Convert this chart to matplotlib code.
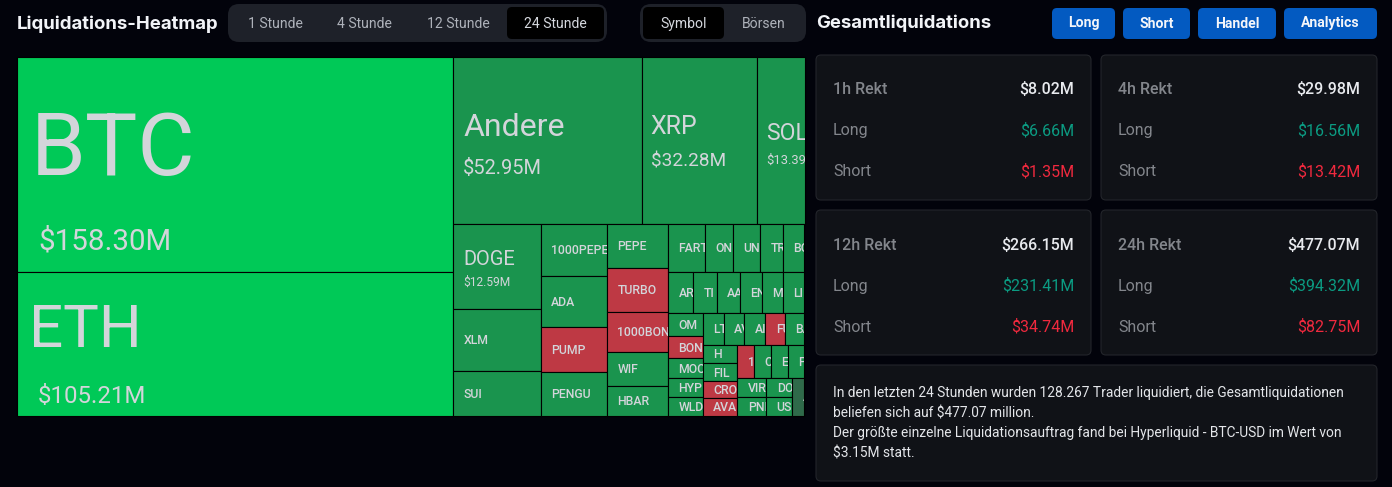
import matplotlib
matplotlib.use("Agg")
import matplotlib.pyplot as plt
from matplotlib.patches import FancyBboxPatch, Rectangle

symbols = ["BTC", "ETH", "Andere", "XRP", "SOL", "DOGE", "XLM", "SUI",
           "1000PEPE", "ADA", "PUMP", "PENGU",
           "PEPE", "TURBO", "1000BON", "WIF", "HBAR",
           "FART", "ON", "UN", "TR", "BO",
           "AR", "TI", "AA", "EN", "M", "LI",
           "OM", "BON", "MOC", "HYP", "WLD",
           "LT", "AV", "AI", "FU", "BA",
           "H", "FIL", "CRO", "AVA",
           "1", "C", "E", "P",
           "VIR", "PNI", "DO", "US", "A"]
amounts = [158.30, 105.21, 52.95, 32.28, 13.39, 12.59, 9.16, 6.65,
           5.80, 5.69, 5.07, 4.85,
           4.59, 4.48, 4.12, 3.50, 3.09,
           2.96, 2.27, 2.23, 1.86, 1.74,
           1.73, 1.63, 1.59, 1.52, 1.48, 1.48,
           1.37, 1.31, 1.17, 1.10, 1.10,
           1.135, 1.10, 1.135, 1.06, 1.06,
           1.06, 1.06, 0.97, 1.02,
           0.93, 0.95, 0.95, 0.93,
           0.94, 0.91, 0.84, 0.81, 0.78]
short_symbols = ["PUMP", "TURBO", "1000BON", "BON", "FU", "1", "CRO", "AVA"]
neutral_symbols = ["A"]

# nested groups of the treemap, the split direction changes on each level
groups = [
    ["BTC", "ETH"],
    [
        ["Andere", "XRP", "SOL"],
        [
            ["DOGE", "XLM", "SUI"],
            ["1000PEPE", "ADA", "PUMP", "PENGU"],
            ["PEPE", "TURBO", "1000BON", "WIF", "HBAR"],
            [
                ["FART", "ON", "UN", "TR", "BO"],
                ["AR", "TI", "AA", "EN", "M", "LI"],
                [
                    ["OM", "BON", "MOC", "HYP", "WLD"],
                    [
                        ["LT", "AV", "AI", "FU", "BA"],
                        [
                            ["H", "FIL", "CRO", "AVA"],
                            [
                                ["1", "C", "E", "P"],
                                [["VIR", "PNI"], ["DO", "US"], "A"],
                            ],
                        ],
                    ],
                ],
            ],
        ],
    ],
]

time_tabs = ["1 Stunde", "4 Stunde", "12 Stunde", "24 Stunde"]
view_tabs = ["Symbol", "Börsen"]
buttons = ["Long", "Short", "Handel", "Analytics"]
card_titles = ["1h Rekt", "4h Rekt", "12h Rekt", "24h Rekt"]
card_totals = ["$8.02M", "$29.98M", "$266.15M", "$477.07M"]
card_longs = ["$6.66M", "$16.56M", "$231.41M", "$394.32M"]
card_shorts = ["$1.35M", "$13.42M", "$34.74M", "$82.75M"]
summary_lines = [
    "In den letzten 24 Stunden wurden 128.267 Trader liquidiert, die Gesamtliquidationen",
    "beliefen sich auf $477.07 million.",
    "Der größte einzelne Liquidationsauftrag fand bei Hyperliquid - BTC-USD im Wert von",
    "$3.15M statt.",
]

BG = "#02030b"
GREEN = "#1a944e"
BRIGHT = "#00c957"
RED = "#be3944"
DARK_GREEN = "#2f6a4a"
LABEL = "#d3d5da"

plt.rcParams["font.family"] = ["Roboto", "DejaVu Sans"]

fig = plt.figure(figsize=(13.92, 4.87), dpi=100, facecolor=BG)
ax = fig.add_axes([0, 0, 1, 1])
ax.set_xlim(0, 1392)
ax.set_ylim(487, 0)
ax.axis("off")


def px(size):
    return size * 0.72


def box(x, y, w, h, face, edge="none", radius=6, lw=1.0):
    patch = FancyBboxPatch((x, y), w, h, boxstyle=f"round,pad=0,rounding_size={radius}",
                           facecolor=face, edgecolor=edge, linewidth=lw)
    ax.add_patch(patch)
    return patch


def group_total(node):
    if isinstance(node, str):
        return amounts[symbols.index(node)]
    return sum(group_total(child) for child in node)


# slice and dice: every level shares its rectangle by the amounts
def layout(node, x, y, w, h, horizontal, cells):
    if isinstance(node, str):
        cells[node] = (x, y, w, h)
        return
    total = group_total(node)
    for child in node:
        share = group_total(child) / total
        if horizontal:
            layout(child, x, y, w * share, h, False, cells)
            x += w * share
        else:
            layout(child, x, y, w, h * share, True, cells)
            y += h * share


cells = {}
layout(groups, 17, 57, 787.5, 358.7, True, cells)

# name: (size px, dx, baseline dy), value: (size px, dx, baseline dy)
big_labels = {
    "BTC": ((88, 14, 118), (29.5, 21, 193)),
    "ETH": ((60, 12, 75), (24, 21, 131)),
    "Andere": ((32, 10, 79), (20, 10, 117)),
    "XRP": ((25, 9, 77), (19, 9, 109)),
    "SOL": ((23, 9, 83), (13, 9, 107)),
    "DOGE": ((20, 10, 41), (12, 10, 62)),
}

for name, value in zip(symbols, amounts):
    x, y, w, h = cells[name]
    if name in short_symbols:
        color = RED
    elif name in neutral_symbols:
        color = DARK_GREEN
    elif value > 100:
        color = BRIGHT
    else:
        color = GREEN
    cell = Rectangle((x, y), w, h, facecolor=color, edgecolor="#000000", linewidth=0.8)
    ax.add_patch(cell)
    if name in big_labels:
        (size, dx, dy), (vsize, vdx, vdy) = big_labels[name]
        t1 = ax.text(x + dx, y + dy, name, fontsize=px(size), color=LABEL, va="baseline", clip_on=True)
        t2 = ax.text(x + vdx, y + vdy, f"${value:.2f}M", fontsize=px(vsize), color=LABEL, va="baseline", clip_on=True)
        t1.set_clip_path(cell)
        t2.set_clip_path(cell)
    else:
        t1 = ax.text(x + 10.4, y + h / 2 + 4.5, name, fontsize=px(12.2), fontweight="medium",
                     color=LABEL, va="baseline", clip_on=True)
        t1.set_clip_path(cell)

# header on the left
ax.text(17, 24, "Liquidations-Heatmap", fontsize=px(18.6), fontfamily="Inter", fontweight="bold",
        color="#f2f4f8", va="center")
box(228, 4, 379, 38, "#1e2129", radius=11)
box(507, 7, 97, 32, "#000000", radius=5)
for label, cx in zip(time_tabs, [275.5, 364.7, 458.5, 555.5]):
    ax.text(cx, 24, label, fontsize=px(14), ha="center", va="center",
            color="#d5d8de" if label == "24 Stunde" else "#aeb2ba")
box(640, 4, 166, 38, "#1e2129", radius=11)
box(643, 7, 81, 32, "#000000", radius=5)
for label, cx in zip(view_tabs, [683.3, 763.3]):
    ax.text(cx, 24, label, fontsize=px(14), ha="center", va="center",
            color="#d5d8de" if label == "Symbol" else "#aeb2ba")

# header on the right
ax.text(816, 23.5, "Gesamtliquidations", fontsize=px(18.5), fontfamily="Inter", fontweight="bold",
        color="#f2f4f8", va="center")
for label, (bx, bw) in zip(buttons, [(1052, 63), (1123, 67), (1198, 78), (1284, 93)]):
    box(bx, 8, bw, 31, "#035ac1", radius=5)
    ax.text(bx + bw / 2, 23.5, label, fontsize=px(14), fontweight="bold", color="#f4f6fa",
            ha="center", va="center")

# cards
card_spots = [(816, 55), (1101, 55), (816, 210), (1101, 210)]
for i, (cx, cy) in enumerate(card_spots):
    cw = 275 if cx == 816 else 276
    box(cx, cy, cw, 145, "#101217", edge="#23252b", radius=5, lw=0.8)
    left = cx + 17
    right = cx + cw - 17
    ax.text(left, cy + 35, card_titles[i], fontsize=px(16), fontweight="medium", color="#83868c", va="center")
    ax.text(right, cy + 35, card_totals[i], fontsize=px(16), fontweight="medium", color="#e8eaee", va="center", ha="right")
    ax.text(left, cy + 76, "Long", fontsize=px(16), color="#83868c", va="center")
    ax.text(right, cy + 76, card_longs[i], fontsize=px(16), color="#0b9b82", va="center", ha="right")
    ax.text(left, cy + 117, "Short", fontsize=px(16), color="#83868c", va="center")
    ax.text(right, cy + 117, card_shorts[i], fontsize=px(16), color="#f0293e", va="center", ha="right")

box(816, 365, 561, 116, "#101217", edge="#23252b", radius=5, lw=0.8)
for line, ly in zip(summary_lines, [393, 413.5, 433.5, 453.5]):
    ax.text(833, ly, line, fontsize=px(13.75), color="#e4e6ea", va="center")

fig.savefig("out.png", dpi=100, facecolor=BG)
